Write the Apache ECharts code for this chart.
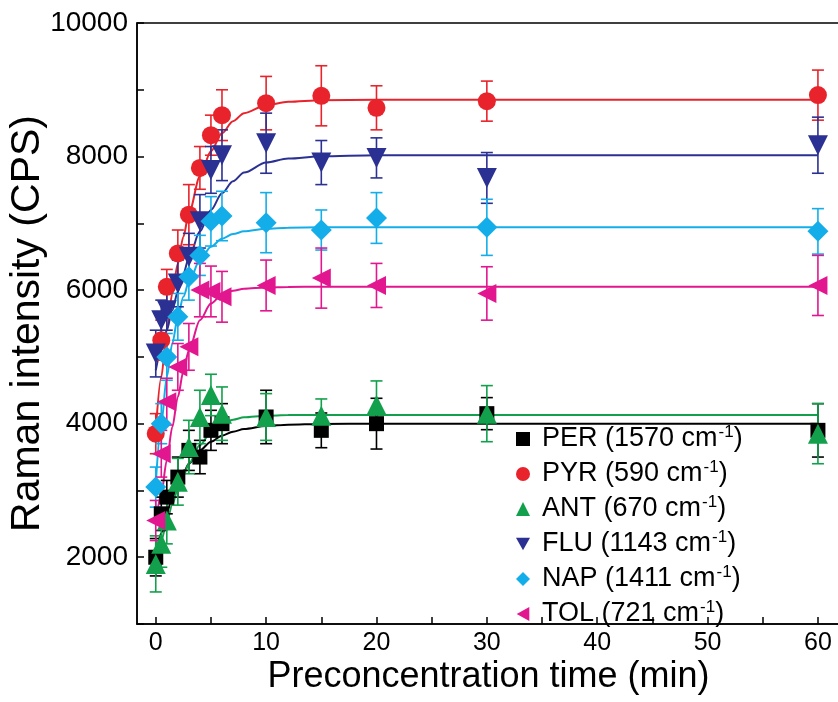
<!DOCTYPE html>
<html>
<head>
<meta charset="utf-8">
<script src="https://cdn.jsdelivr.net/npm/echarts@6/dist/echarts.min.js"></script>
<style>html,body{margin:0;padding:0;background:#fff}#c{width:838px;height:702px}</style>
</head>
<body>
<div id="c"></div>
<script>
// ---- data ----
var times = [0, 0.5, 1, 2, 3, 4, 5, 6, 10, 15, 20, 30, 60];
var fitTimes = [0, 0.5, 1, 1.5, 2, 2.5, 3, 4, 5, 6, 7, 8, 10, 12, 15, 20, 30, 60];

var PER = [2000, 2650, 2900, 3200, 3600, 3500, 3900, 4000, 4100, 3900, 4000, 4150, 3900];
var PER_err = [280, 250, 250, 300, 300, 250, 300, 300, 400, 260, 380, 240, 400];
var PER_fit = [2000, 2360, 2660, 2900, 3100, 3260, 3400, 3600, 3730, 3820, 3880, 3920, 3965, 3985, 3995, 4000, 4000, 4000];

var PYR = [3850, 5250, 6050, 6550, 7130, 7830, 8320, 8620, 8800, 8910, 8730, 8830, 8920];
var PYR_err = [300, 300, 260, 350, 450, 320, 300, 380, 400, 450, 330, 300, 375];
var PYR_fit = [3900, 4700, 5400, 5950, 6400, 6800, 7150, 7700, 8080, 8350, 8530, 8650, 8770, 8820, 8845, 8850, 8850, 8850];

var ANT = [1900, 2200, 2550, 3130, 3650, 4100, 4430, 4150, 4100, 4120, 4280, 4150, 3850];
var ANT_err = [420, 350, 350, 350, 400, 400, 310, 400, 350, 250, 360, 420, 450];
var ANT_fit = [1950, 2250, 2530, 2790, 3020, 3220, 3400, 3680, 3870, 3990, 4060, 4095, 4120, 4128, 4130, 4130, 4130, 4130];

var FLU = [5050, 5550, 5700, 6100, 6500, 7030, 7800, 8020, 8200, 7910, 7980, 7680, 8170];
var FLU_err = [350, 300, 300, 350, 350, 400, 350, 380, 450, 330, 300, 380, 420];
var FLU_fit = [4800, 5100, 5400, 5700, 5980, 6250, 6480, 6880, 7200, 7450, 7630, 7760, 7910, 7970, 8005, 8020, 8020, 8020];

var NAP = [3050, 4000, 5000, 5600, 6200, 6520, 7030, 7110, 7010, 6900, 7080, 6940, 6880];
var NAP_err = [300, 300, 350, 350, 350, 300, 370, 370, 450, 300, 380, 420, 340];
var NAP_fit = [3100, 4000, 4700, 5200, 5600, 5900, 6120, 6450, 6650, 6770, 6840, 6880, 6920, 6935, 6940, 6940, 6940, 6940];

var TOL = [2550, 3550, 4330, 4850, 5150, 6000, 5980, 5900, 6070, 6180, 6070, 5950, 6070];
var TOL_err = [300, 350, 350, 350, 350, 400, 380, 380, 380, 450, 330, 400, 450];
var TOL_fit = [2500, 2950, 3450, 3950, 4400, 4780, 5100, 5550, 5800, 5930, 5990, 6020, 6040, 6048, 6050, 6050, 6050, 6050];

var xTicks = [0, 5, 10, 15, 20, 25, 30, 35, 40, 45, 50, 55, 60];
var xLabels = [0, 10, 20, 30, 40, 50, 60];
var yTicks = [1000, 2000, 3000, 4000, 5000, 6000, 7000, 8000, 9000, 10000];
var yLabels = [2000, 4000, 6000, 8000, 10000];

var names = ['PER', 'PYR', 'ANT', 'FLU', 'NAP', 'TOL'];
var wavenumbers = ['1570', '590', '670', '1143', '1411', '721'];

// ---- styling ----
var species = [
  {name: 'PER', y: PER, e: PER_err, f: PER_fit, color: '#000000', symbol: 'rect', size: 15, rot: 0, icon: 'rect'},
  {name: 'PYR', y: PYR, e: PYR_err, f: PYR_fit, color: '#e8232b', symbol: 'circle', size: 18, rot: 0, icon: 'circle'},
  {name: 'ANT', y: ANT, e: ANT_err, f: ANT_fit, color: '#13a04c', symbol: 'triangle', size: 20, rot: 0, icon: 'triangle'},
  {name: 'FLU', y: FLU, e: FLU_err, f: FLU_fit, color: '#2b3192', symbol: 'triangle', size: 20, rot: 180, icon: 'path://M0,0L10,0L5,9Z'},
  {name: 'NAP', y: NAP, e: NAP_err, f: NAP_fit, color: '#13aee9', symbol: 'diamond', size: 21, rot: 0, icon: 'diamond'},
  {name: 'TOL', y: TOL, e: TOL_err, f: TOL_fit, color: '#e2168f', symbol: 'triangle', size: 19, rot: 90, icon: 'path://M9,0L9,10L0,5Z'}
];

var series = [];
species.forEach(function (s) {
  series.push({
    type: 'line', name: s.name + '_fit', silent: true,
    data: fitTimes.map(function (t, i) { return [t, s.f[i]]; }),
    smooth: 0.3, smoothMonotone: 'x', showSymbol: false, symbol: 'none',
    lineStyle: {color: s.color, width: 2}, z: 2
  });
});
species.forEach(function (s) {
  series.push({
    type: 'custom', name: s.name + '_err', silent: true, z: 3,
    data: times.map(function (t, i) { return [t, s.y[i] - s.e[i], s.y[i] + s.e[i]]; }),
    renderItem: function (params, api) {
      var lo = api.coord([api.value(0), api.value(1)]);
      var hi = api.coord([api.value(0), api.value(2)]);
      var hw = 6;
      var st = {stroke: s.color, lineWidth: 1.6};
      return {
        type: 'group',
        children: [
          {type: 'line', shape: {x1: lo[0], y1: lo[1], x2: hi[0], y2: hi[1]}, style: st},
          {type: 'line', shape: {x1: lo[0] - hw, y1: lo[1], x2: lo[0] + hw, y2: lo[1]}, style: st},
          {type: 'line', shape: {x1: hi[0] - hw, y1: hi[1], x2: hi[0] + hw, y2: hi[1]}, style: st}
        ]
      };
    }
  });
  series.push({
    type: 'scatter', name: s.name, z: 4,
    data: times.map(function (t, i) { return [t, s.y[i]]; }),
    symbol: s.symbol, symbolSize: s.size, symbolRotate: s.rot,
    itemStyle: {color: s.color, opacity: 1}
  });
});

var legendRich = {
  a: {fontFamily: 'Liberation Sans', fontSize: 27, color: '#000', lineHeight: 30, padding: [0, 0, 0, 7]},
  b: {fontFamily: 'Liberation Sans', fontSize: 27, color: '#000', lineHeight: 30},
  s: {fontFamily: 'Liberation Sans', fontSize: 17, color: '#000', lineHeight: 30, verticalAlign: 'top', padding: [0, 0, 16, 1]}
};

var chart = echarts.init(document.getElementById('c'), null, {renderer: 'canvas'});
chart.setOption({
  animation: false,
  backgroundColor: '#ffffff',
  grid: {left: 137, top: 23, width: 703, height: 601, show: true, borderColor: '#000', borderWidth: 1.5,
         containLabel: false, outerBoundsMode: 'none'},
  xAxis: {
    type: 'value', min: -1.7, max: 62,
    name: 'Preconcentration time (min)', nameLocation: 'middle', nameGap: 35, nameMoveOverlap: false,
    nameTextStyle: {fontFamily: 'Liberation Sans', fontSize: 36, color: '#000'},
    axisLine: {show: true, onZero: false, lineStyle: {color: '#000', width: 1.5}},
    axisTick: {show: true, inside: true, length: 7, customValues: xTicks, lineStyle: {color: '#000', width: 1.5}},
    axisLabel: {customValues: xLabels, margin: 7, fontFamily: 'Liberation Sans', fontSize: 25, color: '#000',
                formatter: function (v) { return String(v); }},
    splitLine: {show: false}
  },
  yAxis: {
    type: 'value', min: 1000, max: 10000,
    name: 'Raman intensity (CPS)', nameLocation: 'middle', nameGap: 89, nameRotate: 90, nameMoveOverlap: false,
    nameTextStyle: {fontFamily: 'Liberation Sans', fontSize: 41, color: '#000'},
    axisLine: {show: true, onZero: false, lineStyle: {color: '#000', width: 1.5}},
    axisTick: {show: true, inside: true, length: 7, customValues: yTicks, lineStyle: {color: '#000', width: 1.5}},
    axisLabel: {customValues: yLabels, margin: 9, fontFamily: 'Liberation Sans', fontSize: 28, color: '#000',
                formatter: function (v) { return String(v); }},
    splitLine: {show: false}
  },
  legend: {
    orient: 'vertical', left: 511, top: 419, itemWidth: 14, itemHeight: 14, itemGap: 2,
    data: species.map(function (s) { return {name: s.name, icon: s.icon, itemStyle: {color: s.color}}; }),
    formatter: function (n) {
      var i = names.indexOf(n);
      return '{a|' + n + ' (' + wavenumbers[i] + ' cm}{s|-1}{b|)}';
    },
    textStyle: {rich: legendRich, fontSize: 27, lineHeight: 30},
    selectedMode: false
  },
  series: series
});
</script>
</body>
</html>
